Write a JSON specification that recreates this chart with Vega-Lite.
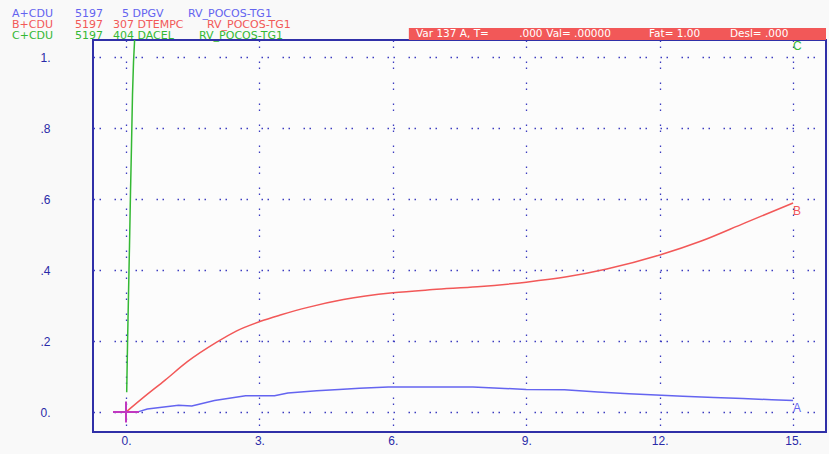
{
  "$schema": "https://vega.github.io/schema/vega-lite/v6.json",
  "width": 733,
  "height": 392,
  "autosize": "none",
  "padding": {"left": 93, "top": 40, "right": 3, "bottom": 22},
  "background": "#f9f9f9",
  "config": {
    "view": {"stroke": "#3030a8", "strokeWidth": 2, "fill": "#fcfcfc"},
    "axis": {
      "domain": false, "ticks": false, "tickSize": 0, "title": null,
      "grid": true, "gridColor": "#3c3cc0", "gridWidth": 1.3, "gridOpacity": 1,
      "gridDash": [1.5, 4.5, 1.5, 13.5],
      "labelColor": "#2a2aa8", "labelFont": "Liberation Sans", "labelFontSize": 12
    }
  },
  "datasets": {
    "curves": [
      {"series": "A", "t": 0, "v": 0}, {"series": "A", "t": 0.25, "v": 0}, {"series": "A", "t": 0.48, "v": 0.009},
      {"series": "A", "t": 1.18, "v": 0.019}, {"series": "A", "t": 1.48, "v": 0.017}, {"series": "A", "t": 1.99, "v": 0.033},
      {"series": "A", "t": 2.69, "v": 0.046}, {"series": "A", "t": 3.34, "v": 0.046}, {"series": "A", "t": 3.64, "v": 0.054},
      {"series": "A", "t": 4.29, "v": 0.06}, {"series": "A", "t": 4.79, "v": 0.064}, {"series": "A", "t": 5.25, "v": 0.067},
      {"series": "A", "t": 5.9, "v": 0.071}, {"series": "A", "t": 7.8, "v": 0.071}, {"series": "A", "t": 9.0, "v": 0.064},
      {"series": "A", "t": 9.86, "v": 0.063}, {"series": "A", "t": 10.61, "v": 0.057}, {"series": "A", "t": 11.31, "v": 0.052},
      {"series": "A", "t": 11.92, "v": 0.048}, {"series": "A", "t": 12.52, "v": 0.045}, {"series": "A", "t": 13.22, "v": 0.041},
      {"series": "A", "t": 13.87, "v": 0.038}, {"series": "A", "t": 14.52, "v": 0.035}, {"series": "A", "t": 15.0, "v": 0.033},
      {"series": "C", "t": 0.016, "v": 0.056}, {"series": "C", "t": 0.034, "v": 0.189}, {"series": "C", "t": 0.056, "v": 0.33},
      {"series": "C", "t": 0.079, "v": 0.47}, {"series": "C", "t": 0.1, "v": 0.611}, {"series": "C", "t": 0.124, "v": 0.752},
      {"series": "C", "t": 0.146, "v": 0.893}, {"series": "C", "t": 0.169, "v": 0.986}, {"series": "C", "t": 0.196, "v": 1.054},
      {"series": "C", "t": 0.214, "v": 1.1}
    ],
    "curveB": [
      {"series": "B", "t": 0, "v": 0}, {"series": "B", "t": 0.4, "v": 0.042}, {"series": "B", "t": 0.88, "v": 0.09},
      {"series": "B", "t": 1.38, "v": 0.142}, {"series": "B", "t": 2.04, "v": 0.197}, {"series": "B", "t": 2.49, "v": 0.229},
      {"series": "B", "t": 3.01, "v": 0.255}, {"series": "B", "t": 3.49, "v": 0.274}, {"series": "B", "t": 4.09, "v": 0.295},
      {"series": "B", "t": 4.89, "v": 0.317}, {"series": "B", "t": 6.0, "v": 0.336}, {"series": "B", "t": 6.9, "v": 0.345},
      {"series": "B", "t": 7.9, "v": 0.353}, {"series": "B", "t": 9.0, "v": 0.366}, {"series": "B", "t": 9.91, "v": 0.381},
      {"series": "B", "t": 10.81, "v": 0.403}, {"series": "B", "t": 12.02, "v": 0.443}, {"series": "B", "t": 12.92, "v": 0.481},
      {"series": "B", "t": 13.92, "v": 0.533}, {"series": "B", "t": 15.0, "v": 0.589}
    ],
    "endLabels": [
      {"series": "A", "t": 15, "v": 0.011, "text": "A"},
      {"series": "B", "t": 15, "v": 0.566, "text": "B"},
      {"series": "C", "t": 15, "v": 1.03, "text": "C"}
    ],
    "header": [
      {"series": "A", "t": -2.563, "v": 1.113, "text": "A+CDU"},
      {"series": "A", "t": -1.147, "v": 1.113, "text": "5197"},
      {"series": "A", "t": -0.09, "v": 1.113, "text": "5 DPGV"},
      {"series": "A", "t": 1.394, "v": 1.113, "text": "RV_POCOS-TG1"},
      {"series": "B", "t": -2.563, "v": 1.082, "text": "B+CDU"},
      {"series": "B", "t": -1.147, "v": 1.082, "text": "5197"},
      {"series": "B", "t": -0.292, "v": 1.082, "text": "307 DTEMPC"},
      {"series": "B", "t": 1.821, "v": 1.082, "text": "RV_POCOS-TG1"},
      {"series": "C", "t": -2.563, "v": 1.051, "text": "C+CDU"},
      {"series": "C", "t": -1.147, "v": 1.051, "text": "5197"},
      {"series": "C", "t": -0.292, "v": 1.051, "text": "404 DACEL"},
      {"series": "C", "t": 1.642, "v": 1.051, "text": "RV_POCOS-TG1"}
    ],
    "statusBox": [{"t": 6.36, "t2": 15.74, "v": 1.048, "v2": 1.082}],
    "statusText": [
      {"t": 6.52, "v": 1.056, "text": "Var 137 A, T="},
      {"t": 8.84, "v": 1.056, "text": ".000"},
      {"t": 9.45, "v": 1.056, "text": "Val= .00000"},
      {"t": 11.76, "v": 1.056, "text": "Fat= 1.00"},
      {"t": 13.58, "v": 1.056, "text": "Desl= .000"}
    ],
    "cursor": [{"t": 0, "v": 0}]
  },
  "encoding": {
    "x": {"field": "t", "type": "quantitative",
      "scale": {"domain": [-0.742, 15.74], "nice": false, "zero": false},
      "axis": {"values": [0, 3, 6, 9, 12, 15], "labelExpr": "datum.value + '.'", "labelPadding": 3, "labelFlush": false}},
    "y": {"field": "v", "type": "quantitative",
      "scale": {"domain": [-0.056, 1.048], "nice": false, "zero": false},
      "axis": {"values": [0, 0.2, 0.4, 0.6, 0.8, 1], "labelAlign": "left", "labelPadding": 53, "labelFlush": false,
        "labelExpr": "datum.value == 0 ? '0.' : datum.value == 1 ? '1.' : '.' + round(datum.value * 10)"}}
  },
  "layer": [
    {
      "data": {"name": "curves"},
      "mark": {"type": "line", "clip": true, "strokeWidth": 1.5},
      "encoding": {
        "color": {"field": "series", "type": "nominal", "legend": null,
          "scale": {"domain": ["A", "B", "C"], "range": ["#6464f0", "#f25858", "#34b834"]}},
        "detail": {"field": "series"}
      }
    },
    {
      "data": {"name": "curveB"},
      "mark": {"type": "line", "clip": true, "strokeWidth": 1.5, "interpolate": "monotone"},
      "encoding": {
        "color": {"field": "series", "type": "nominal", "legend": null}
      }
    },
    {
      "data": {"name": "cursor"},
      "mark": {"type": "point", "shape": "M-1.3,0H1.3M0,-1.05V1.05", "size": 400, "filled": false,
        "stroke": "#c038c0", "strokeWidth": 2, "opacity": 1}
    },
    {
      "data": {"name": "endLabels"},
      "mark": {"type": "text", "align": "left", "baseline": "middle", "font": "Liberation Sans", "fontSize": 12, "clip": false},
      "encoding": {
        "text": {"field": "text"},
        "color": {"field": "series", "type": "nominal", "legend": null}
      }
    },
    {
      "data": {"name": "header"},
      "mark": {"type": "text", "align": "left", "baseline": "alphabetic", "font": "DejaVu Sans", "fontSize": 11, "clip": false},
      "encoding": {
        "text": {"field": "text"},
        "color": {"field": "series", "type": "nominal", "legend": null}
      }
    },
    {
      "data": {"name": "statusBox"},
      "mark": {"type": "rect", "color": "#f25858", "clip": false},
      "encoding": {
        "x2": {"field": "t2"},
        "y2": {"field": "v2"}
      }
    },
    {
      "data": {"name": "statusText"},
      "mark": {"type": "text", "align": "left", "baseline": "alphabetic", "font": "DejaVu Sans", "fontSize": 10.5, "color": "#ffffff", "clip": false},
      "encoding": {"text": {"field": "text"}}
    }
  ]
}
